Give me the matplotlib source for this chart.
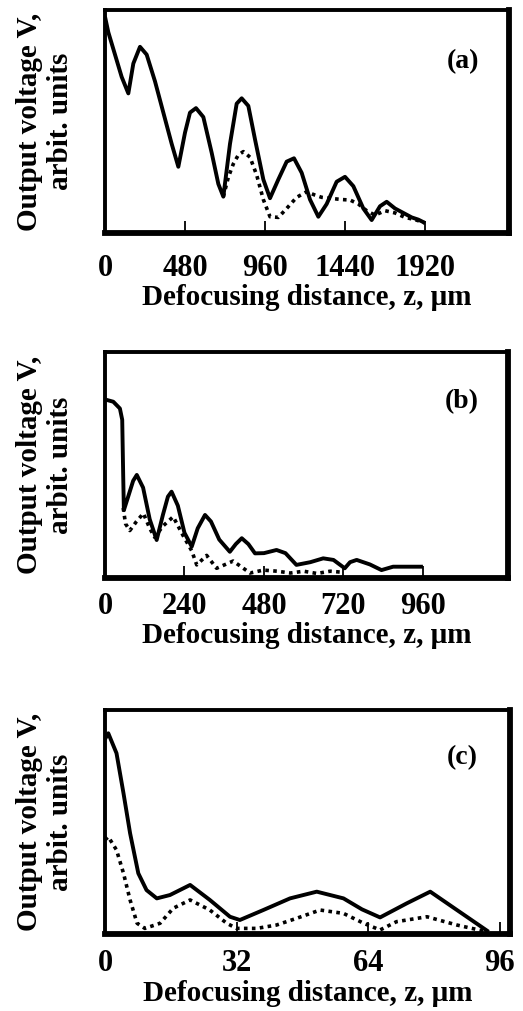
import matplotlib
matplotlib.use("Agg")
import matplotlib.pyplot as plt

plt.rcParams['font.family'] = ['Liberation Serif', 'DejaVu Serif']
plt.rcParams['font.weight'] = 'bold'

# ---------------- data (arbitrary units) ----------------
a_z_solid = [0, 20, 60, 100, 140, 170, 210, 250, 300, 350, 400, 440, 480, 510, 546,
             590, 640, 680, 710, 750, 790, 820, 860, 900, 950, 990, 1040, 1090, 1134,
             1180, 1230, 1280, 1330, 1390, 1440, 1490, 1550, 1600, 1650, 1690, 1740,
             1790, 1840, 1880, 1920]
a_v_solid = [0.97, 0.90, 0.80, 0.70, 0.626, 0.76, 0.835, 0.80, 0.68, 0.54, 0.40, 0.297,
             0.45, 0.54, 0.56, 0.52, 0.36, 0.22, 0.163, 0.40, 0.58, 0.604, 0.57, 0.42,
             0.24, 0.156, 0.24, 0.32, 0.335, 0.27, 0.15, 0.073, 0.13, 0.23, 0.252, 0.21,
             0.11, 0.058, 0.12, 0.14, 0.11, 0.09, 0.07, 0.06, 0.045]
a_z_dot = [710, 740, 770, 800, 830, 870, 910, 950, 990, 1040, 1090, 1150, 1210, 1260,
           1300, 1360, 1420, 1470, 1520, 1570, 1620, 1680, 1740, 1800, 1860, 1920]
a_v_dot = [0.163, 0.25, 0.31, 0.35, 0.365, 0.34, 0.26, 0.15, 0.073, 0.07, 0.11, 0.16,
           0.185, 0.17, 0.16, 0.155, 0.15, 0.148, 0.13, 0.10, 0.08, 0.10, 0.09, 0.07,
           0.06, 0.045]
a_ticks = [0, 480, 960, 1440, 1920]

b_z_solid = [0, 5, 25, 45, 52, 55, 57, 70, 85, 96, 115, 135, 156, 175, 190, 201, 220,
             240, 262, 280, 302, 320, 345, 377, 395, 413, 433, 453, 480, 518, 545, 578,
             620, 659, 690, 724, 740, 760, 800, 835, 870, 910, 950, 960]
b_v_solid = [0.79, 0.788, 0.78, 0.75, 0.70, 0.45, 0.30, 0.36, 0.43, 0.456, 0.40, 0.26,
             0.168, 0.28, 0.36, 0.382, 0.32, 0.20, 0.139, 0.22, 0.279, 0.25, 0.17,
             0.116, 0.15, 0.176, 0.15, 0.109, 0.11, 0.124, 0.11, 0.058, 0.07, 0.087,
             0.08, 0.043, 0.07, 0.080, 0.06, 0.035, 0.05, 0.05, 0.05, 0.05]
b_z_dot = [55, 62, 75, 95, 116, 135, 150, 175, 206, 235, 262, 277, 307, 337, 387, 438,
           478, 520, 560, 600, 640, 680, 720]
b_v_dot = [0.31, 0.24, 0.21, 0.25, 0.286, 0.22, 0.18, 0.23, 0.271, 0.19, 0.12, 0.058,
           0.10, 0.043, 0.075, 0.022, 0.035, 0.03, 0.022, 0.03, 0.02, 0.03, 0.025]
b_ticks = [0, 240, 480, 720, 960]

c_z_solid = [0, 0.8, 2.8, 4.5, 6.1, 8.1, 10.1, 12.6, 15.8, 20.7, 25.5, 30.4, 32.8, 38.5,
             45, 51.5, 58, 62.5, 66.9, 73.4, 79.1, 85.6, 93.3]
c_v_solid = [0.87, 0.896, 0.807, 0.628, 0.45, 0.271, 0.196, 0.159, 0.174, 0.219, 0.152,
             0.077, 0.0625, 0.107, 0.159, 0.189, 0.159, 0.11, 0.074, 0.137, 0.189,
             0.107, 0.01]
c_z_dot = [0, 0.8, 2.8, 4.5, 6.1, 7.8, 9.7, 13.4, 16.6, 20.7, 25.5, 29.6, 32, 36.9,
           41.7, 46.6, 52.3, 58, 62.9, 66.9, 70.9, 78.3, 85.6, 92.9]
c_v_dot = [0.42, 0.434, 0.375, 0.271, 0.152, 0.048, 0.025, 0.048, 0.115, 0.152, 0.107,
           0.048, 0.025, 0.025, 0.040, 0.07, 0.107, 0.092, 0.048, 0.018, 0.055, 0.077,
           0.04, 0.01]
c_ticks = [0, 32, 64, 96]

panel_labels = ['(a)', '(b)', '(c)']
ylabel_text = 'Output voltage V,\narbit. units'
xlabel_text = 'Defocusing distance, z, \u03bcm'

# ---------------- figure ----------------
W, H = 523, 1011
fig = plt.figure(figsize=(W / 100, H / 100), dpi=100)

def frac(x0, y0, x1, y1):
    return [x0 / W, 1 - y1 / H, (x1 - x0) / W, (y1 - y0) / H]

specs = [
    (frac(105, 10, 509, 233), a_z_solid, a_v_solid, a_z_dot, a_v_dot, a_ticks, 2424, 15,
     (0.886, 0.767)),
    (frac(105, 352, 508, 578), b_z_solid, b_v_solid, b_z_dot, b_v_dot, b_ticks, 1217, 10,
     (0.886, 0.78)),
    (frac(105, 710, 510, 934), c_z_solid, c_v_solid, c_z_dot, c_v_dot, c_ticks, 98.5, 11,
     (0.882, 0.786)),
]
label_y = [(10 + 233) / 2, (352 + 578) / 2, (710 + 934) / 2]

for i, (rect, zs, vs, zd, vd, ticks, xmax, pad, lpos) in enumerate(specs):
    ax = fig.add_axes(rect)
    ax.plot(zs, vs, color='black', lw=2.8, solid_capstyle='butt')
    ax.plot(zd, vd, color='black', lw=2.6, ls=(0, (1, 1.2)))
    ax.set_xlim(0, xmax)
    ax.set_ylim(0, 1)
    ax.set_yticks([])
    ax.set_xticks(ticks)
    ax.set_xticklabels([str(t) for t in ticks], fontsize=22, fontweight='bold')
    ax.tick_params(axis='x', direction='in', length=9, width=1.3, pad=pad)
    for side in ['left', 'top']:
        ax.spines[side].set_linewidth(2.8)
    for side in ['right', 'bottom']:
        ax.spines[side].set_linewidth(4.2)
    ax.set_xlabel(xlabel_text, fontsize=21, fontweight='bold', labelpad=1)
    ax.text(lpos[0], lpos[1], panel_labels[i], transform=ax.transAxes, fontsize=20,
            fontweight='bold', ha='center', va='center')
    fig.text(45 / W, 1 - label_y[i] / H, ylabel_text, rotation=90, ha='center',
             va='center', fontsize=21, fontweight='bold', linespacing=1.15,
             multialignment='center')

fig.savefig('out.png', dpi=100)
